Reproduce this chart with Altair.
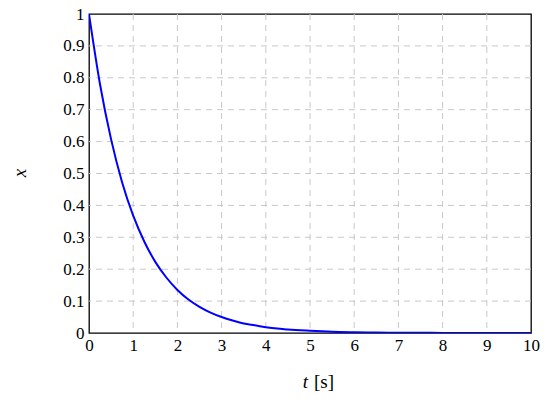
import altair as alt
import pandas as pd

# values
t_vals = [0, 0.25, 0.5, 0.75, 1, 1.25, 1.5, 1.75, 2, 2.25, 2.5, 2.75, 3, 3.25, 3.5,
          3.75, 4, 4.5, 5, 5.5, 6, 6.5, 7, 7.5, 8, 8.5, 9, 9.5, 10]
x_vals = [1.0, 0.779, 0.607, 0.472, 0.368, 0.287, 0.223, 0.174, 0.135, 0.105, 0.082,
          0.064, 0.050, 0.039, 0.030, 0.024, 0.018, 0.011, 0.007, 0.004, 0.0025, 0.0015,
          0.0009, 0.0006, 0.0003, 0.0002, 0.0001, 0.0001, 0.0]
x_ticks = [0, 1, 2, 3, 4, 5, 6, 7, 8, 9, 10]
y_ticks = [0, 0.1, 0.2, 0.3, 0.4, 0.5, 0.6, 0.7, 0.8, 0.9, 1]

df = pd.DataFrame({"t": t_vals, "x": x_vals})
FONT = "serif"
GRID = "#c8c8c8"

xs = alt.Scale(domain=[0, 10], nice=False)
ys = alt.Scale(domain=[0, 1], nice=False)
xax = alt.Axis(values=x_ticks, title=None, grid=False, ticks=False, domain=False,
               labelFont=FONT, labelFontSize=17, labelColor="black",
               labelPadding=4, labelFlush=False)
yax = alt.Axis(values=y_ticks, title=None, grid=False, ticks=False, domain=False,
               labelFont=FONT, labelFontSize=17, labelColor="black",
               labelPadding=5, labelFlush=False, format="~g")

xgrid = alt.Chart(pd.DataFrame({"g": x_ticks[1:-1]})).mark_rule(
    color=GRID, strokeWidth=1, strokeDash=[6, 5]
).encode(x=alt.X("g:Q", scale=xs, axis=xax))
ygrid = alt.Chart(pd.DataFrame({"g": y_ticks[1:-1]})).mark_rule(
    color=GRID, strokeWidth=1, strokeDash=[6, 5]
).encode(y=alt.Y("g:Q", scale=ys, axis=yax))

line = alt.Chart(df).mark_line(color="#0000ff", strokeWidth=2, clip=True,
                               interpolate="monotone").encode(
    x=alt.X("t:Q", scale=xs, axis=xax),
    y=alt.Y("x:Q", scale=ys, axis=yax),
)

tlab = alt.Chart(pd.DataFrame({"s": ["t"]})).mark_text(
    font=FONT, fontSize=19, fontStyle="italic", align="right", baseline="middle"
).encode(x=alt.value(219), y=alt.value(368), text="s:N")
slab = alt.Chart(pd.DataFrame({"s": ["[s]"]})).mark_text(
    font=FONT, fontSize=19, align="left", baseline="middle"
).encode(x=alt.value(225), y=alt.value(368), text="s:N")
ylab = alt.Chart(pd.DataFrame({"s": ["x"]})).mark_text(
    font=FONT, fontSize=19, fontStyle="italic", align="center", baseline="middle", angle=270
).encode(x=alt.value(-69), y=alt.value(159), text="s:N")

chart = alt.layer(xgrid, ygrid, line, tlab, slab, ylab).properties(
    width=442, height=319,
    autosize=alt.AutoSizeParams(type="none"),
    padding={"left": 81, "top": 6, "right": 10, "bottom": 60},
).configure_view(stroke="black", strokeWidth=1.3)

chart.save("out.html", embed_options={"renderer": "svg", "actions": False})
